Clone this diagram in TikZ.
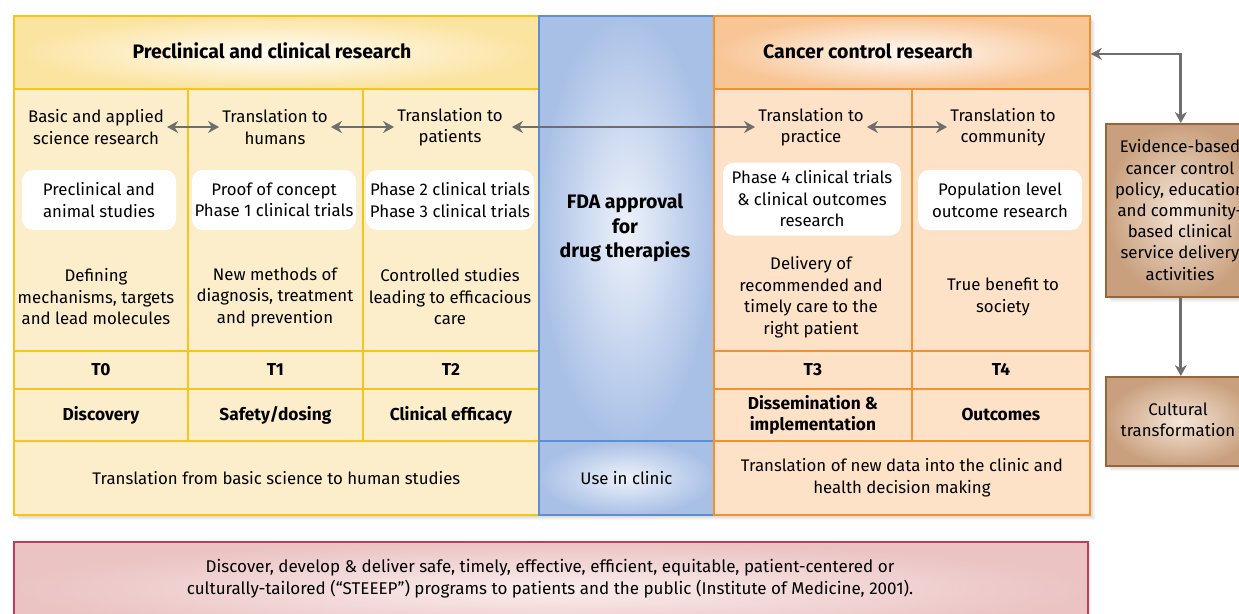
\documentclass[tikz,border=0pt]{standalone}
\usepackage{fontspec}
\setmainfont{Fira Sans}
\usetikzlibrary{arrows.meta}
\definecolor{yfill}{HTML}{FDEECB}
\definecolor{yedge}{HTML}{F6C51B}
\definecolor{yhead}{HTML}{FBE3A0}
\definecolor{bfill}{HTML}{A9C0E6}
\definecolor{bin}{HTML}{EEF2FA}
\definecolor{bedge}{HTML}{5D8FD3}
\definecolor{ofill}{HTML}{FDE2C8}
\definecolor{oedge}{HTML}{F29132}
\definecolor{ohead}{HTML}{F8C595}
\definecolor{brout}{HTML}{C9A07E}
\definecolor{brin}{HTML}{F5E6D8}
\definecolor{bredge}{HTML}{98653A}
\definecolor{pout}{HTML}{EBC3C3}
\definecolor{pin}{HTML}{FAEDED}
\definecolor{pedge}{HTML}{C33B5C}
\definecolor{arr}{HTML}{6E6E6E}
\tikzset{
  cell/.style={anchor=north west, line width=1.8pt, inner sep=0pt, align=center,
    font=\fontsize{16.8}{21.5}\selectfont},
  ycell/.style={cell, draw=yedge, fill=yfill},
  ocell/.style={cell, draw=oedge, fill=ofill},
  bcell/.style={cell, draw=bedge, shade, shading=radial, inner color=bin, outer color=bfill},
  brbox/.style={cell, draw=bredge, line width=1.6pt, shade, shading=radial, inner color=brin, outer color=brout},
  txt/.style={align=center, inner sep=3pt, font=\fontsize{16.8}{21.5}\selectfont},
  wbox/.style={txt, fill=white, rounded corners=11pt, inner sep=0pt},
  bold/.style={font=\fontsize{17.3}{21.5}\selectfont\bfseries},
  hfont/.style={font=\fontsize{19.5}{23}\selectfont\bfseries},
  dar/.style={{Stealth[length=11pt,width=12pt]}-{Stealth[length=11pt,width=12pt]}, draw=arr, line width=2.8pt},
  sar/.style={-{Stealth[length=11pt,width=12pt]}, draw=arr, line width=2.8pt},
}
\begin{document}
\begin{tikzpicture}[x=1pt,y=-1pt]
\useasboundingbox (0,0) rectangle (1239,613);
\clip (0,0) rectangle (1239,613);
% soft shadows
\foreach \i in {1,...,6}{
  \fill[black, opacity=0.035] (13+\i,15+\i) rectangle (1089+\i,514+\i);
  \fill[black, opacity=0.035] (1105+\i,123+\i) rectangle (1255+\i,296+\i);
  \fill[black, opacity=0.035] (1105+\i,376+\i) rectangle (1255+\i,465+\i);
}
% yellow block
\node[ycell, shade, shading=radial, inner color=white!85!yfill, outer color=yhead,
  minimum width=525, minimum height=73] (yh) at (13,15) {};
\node[hfont] (yht) at (272,51) {Preclinical and clinical research};
\node[ycell, minimum width=174, minimum height=262] (yc0) at (13,88) {};
\node[ycell, minimum width=175, minimum height=262] (yc1) at (187,88) {};
\node[ycell, minimum width=176, minimum height=262] (yc2) at (362,88) {};
\node[ycell, bold, minimum width=174, minimum height=38] (t0) at (13,350) {T0};
\node[ycell, bold, minimum width=175, minimum height=38] (t1) at (187,350) {T1};
\node[ycell, bold, minimum width=176, minimum height=38] (t2) at (362,350) {T2};
\node[ycell, bold, minimum width=174, minimum height=52] (p0) at (13,388) {Discovery};
\node[ycell, bold, minimum width=175, minimum height=52] (p1) at (187,388) {Safety/dosing};
\node[ycell, bold, minimum width=176, minimum height=52] (p2) at (362,388) {Clinical efficacy};
\node[ycell, minimum width=525, minimum height=74] (yb) at (13,440) {\raisebox{-2pt}{Translation from basic science to human studies}};
% blue block
\node[bcell, minimum width=175, minimum height=425] (bt) at (538,15) {};
\node[font=\fontsize{19.5}{24.5}\selectfont\bfseries, align=center] (fda) at (625,228) {FDA approval\\for\\drug therapies};
\node[bcell, minimum width=175, minimum height=74] (bb) at (538,440) {\raisebox{-6pt}{Use in clinic}};
% orange block
\node[ocell, shade, shading=radial, inner color=white!80!ofill, outer color=ohead,
  minimum width=376, minimum height=73] (oh) at (713,15) {};
\node[hfont] (oht) at (868,51) {Cancer control research};
\node[ocell, minimum width=198, minimum height=262] (oc3) at (713,88) {};
\node[ocell, minimum width=178, minimum height=262] (oc4) at (911,88) {};
\node[ocell, bold, minimum width=198, minimum height=38] (t3) at (713,350) {T3};
\node[ocell, bold, minimum width=178, minimum height=38] (t4) at (911,350) {T4};
\node[ocell, bold, minimum width=198, minimum height=52] (p3) at (713,388) {Dissemination \&\\implementation};
\node[ocell, bold, minimum width=178, minimum height=52] (p4) at (911,388) {Outcomes};
\node[ocell, minimum width=376, minimum height=74] (ob) at (713,440) {Translation of new data into the clinic and\\health decision making};
% column texts
\node[txt] (l0) at (96,127) {Basic and applied\\science research};
\node[txt] (l1) at (275,127) {Translation to\\humans};
\node[txt] (l2) at (450,127) {Translation to\\patients};
\node[txt] (l3) at (811,127) {Translation to\\practice};
\node[txt] (l4) at (1003,127) {Translation to\\community};
\node[wbox, minimum width=154, minimum height=60] (w0) at (99,200) {Preclinical and\\animal studies};
\node[wbox, minimum width=164, minimum height=60] (w1) at (274,200) {Proof of concept\\Phase 1 clinical trials};
\node[wbox, minimum width=168, minimum height=60] (w2) at (450,200) {Phase 2 clinical trials\\Phase 3 clinical trials};
\node[wbox, minimum width=178, minimum height=73] (w3) at (812,199) {Phase 4 clinical trials\\\& clinical outcomes\\research};
\node[wbox, minimum width=164, minimum height=60] (w4) at (1000,200) {Population level\\outcome research};
\node[txt] (d0) at (96,297) {Defining\\mechanisms, targets\\and lead molecules};
\node[txt] (d1) at (275,297) {New methods of\\diagnosis, treatment\\and prevention};
\node[txt] (d2) at (450,297) {Controlled studies\\leading to efficacious\\care};
\node[txt] (d3) at (811,297) {Delivery of\\recommended and\\timely care to the\\right patient};
\node[txt] (d4) at (1003,297) {True benefit to\\society};
\draw[dar] (l0.east) -- (l1.west);
\draw[dar] (l1.east) -- (l2.west);
\draw[dar] ([xshift=6pt]l2.east) -- (l3.west);
\draw[dar] (l3.east) -- (l4.west);
% right boxes
\node[brbox, minimum width=150, minimum height=173] (ev) at (1105,123) {};
\node[txt, font=\fontsize{16.8}{21.2}\selectfont] (evt) at (1180,210) {Evidence-based\\cancer control\\policy, education\\and community-\\based clinical\\service delivery\\activities};
\node[brbox, minimum width=150, minimum height=89] (cu) at (1105,376) {};
\node[txt, font=\fontsize{16.8}{21.5}\selectfont] (cut) at (1178,420) {Cultural\\transformation};
\draw[dar] ([yshift=-1.5pt]oh.east) -| (ev.north);
\draw[sar] (ev.south) -- (cu.north);
% pink box
\fill[black, opacity=0.05] (17,545) rectangle (1091,640);
\node[cell, draw=pedge, line width=1.6pt, shade, shading=radial, inner color=pin, outer color=pout,
  minimum width=1074, minimum height=95] (pk) at (13,541) {};
\node[txt, font=\fontsize{17}{22}\selectfont] (pkt) at (550,579) {Discover, develop \& deliver safe, timely, effective, efficient, equitable, patient-centered or\\culturally-tailored (“STEEEP”) programs to patients and the public (Institute of Medicine, 2001).};
\end{tikzpicture}
\end{document}
